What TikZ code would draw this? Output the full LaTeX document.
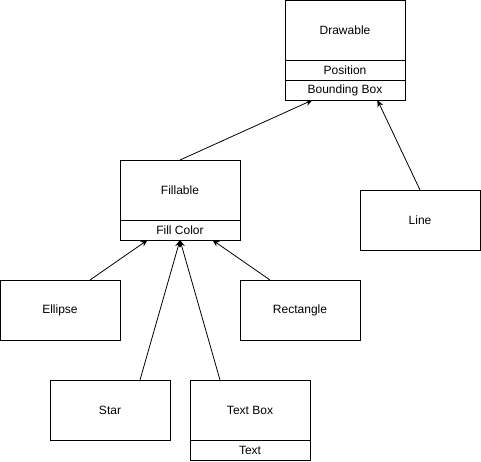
\documentclass[tikz,border=0pt]{standalone}
\usepackage{fontspec}
\setmainfont{Liberation Sans}
\usetikzlibrary{calc,arrows.meta}
\tikzset{
	umlbox/.style={draw, line width=1pt, rectangle, anchor=north west, inner sep=0pt, outer sep=0pt, minimum width=120pt, minimum height=60pt, font=\fontsize{12}{14}\selectfont},
	fieldbox/.style={umlbox, minimum height=20pt},
	inherit/.style={line width=0.8pt, -{Stealth[length=7pt,width=6pt]}}
}

\begin{document}
\begin{tikzpicture}[x=1pt, y=-1pt]
			%%%%% START %%%%%
			
			\useasboundingbox (0, 0) rectangle (481, 461);
			
			\node[umlbox] (drawable) at (285, 0) {Drawable};
			\node[fieldbox] (position) at (285, 60) {Position};
			\node[fieldbox] (bbox) at (285, 80) {Bounding Box};
			
			\node[umlbox] (fillable) at (120, 160) {Fillable};
			\node[fieldbox] (fillcolor) at (120, 220) {Fill Color};
			
			\node[umlbox] (line) at (360, 190) {Line};
			\node[umlbox] (ellipse) at (0, 280) {Ellipse};
			\node[umlbox] (rectangle) at (240, 280) {Rectangle};
			\node[umlbox] (star) at (50, 380) {Star};
			
			\node[umlbox] (textbox) at (190, 380) {Text Box};
			\node[fieldbox] (textfield) at (190, 440) {Text};
			
			\draw[inherit] (fillable.north) -- ($(bbox.south west)!.23!(bbox.south east)$);
			\draw[inherit] (line.north) -- ($(bbox.south west)!.77!(bbox.south east)$);
			
			\draw[inherit] ($(ellipse.north west)!.75!(ellipse.north east)$) -- ($(fillcolor.south west)!.23!(fillcolor.south east)$);
			\draw[inherit] ($(rectangle.north west)!.25!(rectangle.north east)$) -- ($(fillcolor.south west)!.77!(fillcolor.south east)$);
			\draw[inherit] ($(star.north west)!.75!(star.north east)$) -- (fillcolor.south);
			\draw[inherit] ($(textbox.north west)!.25!(textbox.north east)$) -- (fillcolor.south);
			
			%%%%% END %%%%%
		\end{tikzpicture}
\end{document}
